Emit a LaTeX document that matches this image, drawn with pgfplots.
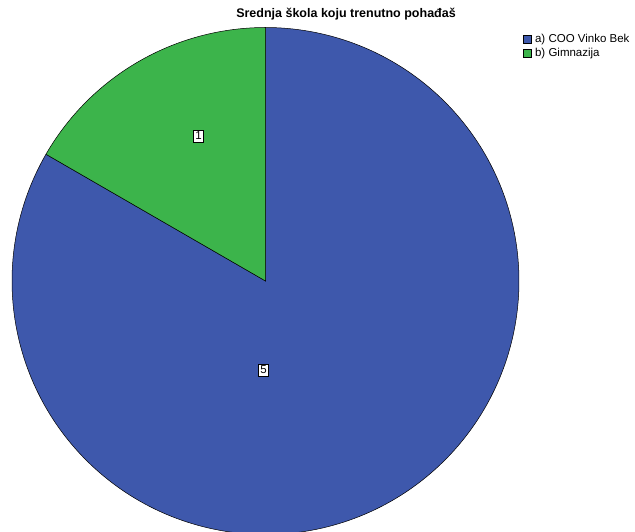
\documentclass[border=0pt]{standalone}
\usepackage{pgfplots}
\pgfplotsset{compat=1.18}
\usepackage{fontspec}
\setmainfont{Liberation Sans}
\definecolor{spssblue}{RGB}{62,88,172}
\definecolor{spssgreen}{RGB}{60,180,75}
% pie values
\def\valA{5}
\def\valB{1}
\begin{document}
\begin{tikzpicture}
\useasboundingbox (0,0) rectangle (635pt,532pt);
\begin{axis}[
  at={(0,0)}, anchor=south west,
  scale only axis, width=635pt, height=532pt,
  xmin=0, xmax=635, ymin=0, ymax=532,
  hide axis, clip=true,
  legend style={at={(axis cs:523,500)}, anchor=north west, draw=none, fill=none,
    font=\fontsize{11.5}{12}\selectfont, row sep=0pt, inner sep=0pt,
    /tikz/every odd column/.append style={column sep=1.5pt}},
  legend cell align=left,
  legend image code/.code={\draw[#1,draw=black,line width=0.4pt] (0pt,-4pt) rectangle (8pt,4pt);},
]
\pgfmathsetmacro{\tot}{\valA+\valB}
\pgfmathsetmacro{\angB}{360*\valB/\tot}
\pgfmathsetmacro{\startA}{90+\angB}
\pgfmathsetmacro{\endA}{450}
\def\cx{265.5}
\def\cy{251}
\def\rr{253.5}
\addplot[fill=spssblue, draw=black, line width=0.5pt, domain=\startA:\endA, samples=240]
  ({\cx+\rr*cos(x)},{\cy+\rr*sin(x)}) -- (axis cs:\cx,\cy) -- cycle;
\addlegendentry{a) COO Vinko Bek}
\addplot[fill=spssgreen, draw=black, line width=0.5pt, domain=90:\startA, samples=60]
  ({\cx+\rr*cos(x)},{\cy+\rr*sin(x)}) -- (axis cs:\cx,\cy) -- cycle;
\addlegendentry{b) Gimnazija}
\node[fill=white, draw=black, line width=0.8pt, inner xsep=1.5pt, inner ysep=2pt, font=\fontsize{11.5}{12}\selectfont] at (axis cs:198.5,396) {1};
\node[fill=white, draw=black, line width=0.8pt, inner xsep=1.5pt, inner ysep=2pt, font=\fontsize{11.5}{12}\selectfont] at (axis cs:263.5,162) {5};
\node[font=\bfseries\fontsize{12.5}{13}\selectfont, anchor=center] at (axis cs:346,518) {Srednja škola koju trenutno pohađaš};
\end{axis}
\end{tikzpicture}
\end{document}
